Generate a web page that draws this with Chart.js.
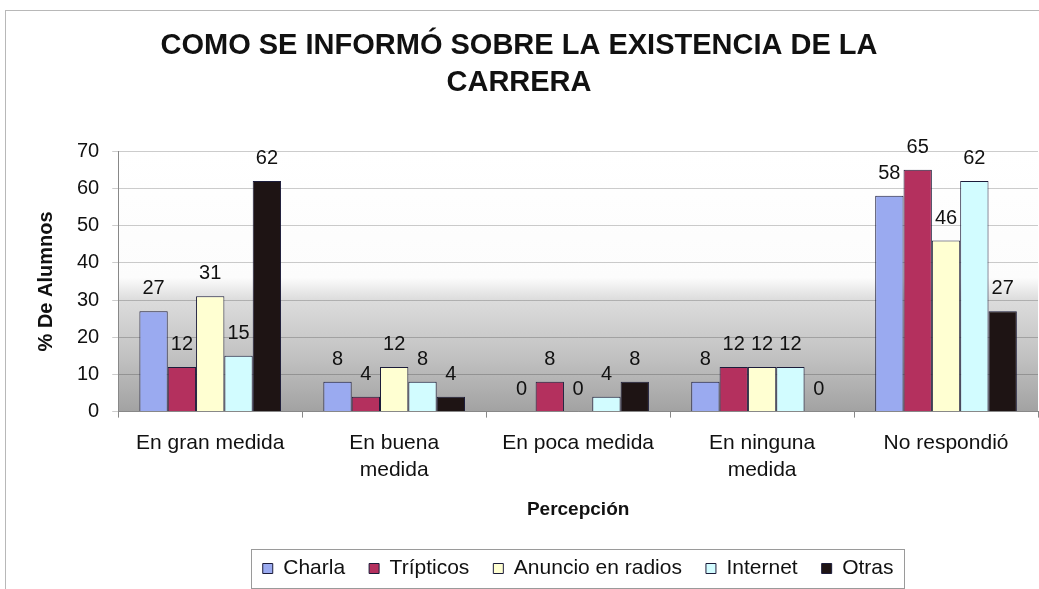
<!DOCTYPE html>
<html>
<head>
<meta charset="utf-8">
<script src="https://cdn.jsdelivr.net/npm/chart.js@4/dist/chart.umd.min.js"></script>
<style>
  html, body { margin: 0; padding: 0; background: #fff; }
</style>
</head>
<body>
<canvas id="grafico" width="1039" height="589"></canvas>
<script>
// datos
const categorias = ['En gran medida', ['En buena', 'medida'], 'En poca medida', ['En ninguna', 'medida'], 'No respondió'];
const charla = [27, 8, 0, 8, 58];
const tripticos = [12, 4, 8, 12, 65];
const anuncioRadios = [31, 12, 0, 12, 46];
const internet = [15, 8, 4, 12, 62];
const otras = [62, 4, 8, 0, 27];
const ticksY = [0, 10, 20, 30, 40, 50, 60, 70];

const FUENTE = "'Liberation Sans', Arial, sans-serif";

// fondo degradado del area del grafico
const fondoPlugin = {
  id: 'fondo',
  beforeDraw(chart) {
    const { ctx, chartArea, scales } = chart;
    const y = scales.y;
    const h = chartArea.bottom - chartArea.top;
    const pos = v => (y.getPixelForValue(v) - chartArea.top) / h;
    const g = ctx.createLinearGradient(0, chartArea.top, 0, chartArea.bottom);
    g.addColorStop(0, '#ffffff');
    g.addColorStop(pos(36), '#fcfcfc');
    g.addColorStop(pos(30), '#dcdcdc');
    g.addColorStop(pos(15), '#c2c2c2');
    g.addColorStop(1, '#a2a2a2');
    ctx.save();
    ctx.fillStyle = g;
    ctx.fillRect(chartArea.left, chartArea.top, chartArea.right - chartArea.left, h);
    ctx.restore();
  }
};

// etiquetas de valor sobre cada barra
const etiquetasPlugin = {
  id: 'etiquetas',
  afterDatasetsDraw(chart) {
    const { ctx } = chart;
    ctx.save();
    ctx.font = '20px ' + FUENTE;
    ctx.fillStyle = '#111';
    ctx.textAlign = 'center';
    ctx.textBaseline = 'alphabetic';
    chart.data.datasets.forEach((ds, i) => {
      chart.getDatasetMeta(i).data.forEach((bar, j) => {
        ctx.fillText(String(ds.data[j]), bar.x, bar.y - 17);
      });
    });
    ctx.restore();
  }
};

// marco exterior y recuadro de la leyenda
const marcoPlugin = {
  id: 'marco',
  afterDraw(chart) {
    const { ctx } = chart;
    ctx.save();
    ctx.strokeStyle = '#b8b8b8';
    ctx.lineWidth = 1;
    ctx.strokeRect(5.5, 10.5, chart.width, chart.height);
    const cajas = chart.legend.legendHitBoxes;
    if (cajas && cajas.length) {
      const izq = Math.min(...cajas.map(c => c.left)) - 12;
      const der = Math.max(...cajas.map(c => c.left + c.width)) + 10;
      const arriba = cajas[0].top - 9;
      const alto = cajas[0].height + 18;
      ctx.strokeStyle = '#9a9a9a';
      ctx.strokeRect(Math.round(izq) + 0.5, Math.round(arriba) + 0.5, Math.round(der - izq), Math.round(alto));
    }
    ctx.restore();
  }
};

const borde = '#1c1c3a';

new Chart(document.getElementById('grafico'), {
  type: 'bar',
  data: {
    labels: categorias,
    datasets: [
      { label: 'Charla', data: charla, backgroundColor: '#9aaaf0', borderColor: borde, borderWidth: 1 },
      { label: 'Trípticos', data: tripticos, backgroundColor: '#b4305e', borderColor: borde, borderWidth: 1 },
      { label: 'Anuncio en radios', data: anuncioRadios, backgroundColor: '#ffffd2', borderColor: borde, borderWidth: 1 },
      { label: 'Internet', data: internet, backgroundColor: '#d2fcff', borderColor: borde, borderWidth: 1 },
      { label: 'Otras', data: otras, backgroundColor: '#1e1414', borderColor: borde, borderWidth: 1 }
    ]
  },
  options: {
    responsive: false,
    devicePixelRatio: 1,
    animation: false,
    layout: { padding: { left: 0, right: 1, top: 0, bottom: 0 } },
    datasets: {
      bar: { categoryPercentage: 0.77, barPercentage: 1 }
    },
    plugins: {
      title: {
        display: true,
        text: ['COMO SE INFORMÓ SOBRE LA EXISTENCIA DE LA', 'CARRERA'],
        color: '#111',
        font: { family: FUENTE, size: 29, weight: 'bold', lineHeight: 1.28 },
        padding: { top: 27, bottom: 50 }
      },
      legend: {
        position: 'bottom',
        fullSize: false,
        labels: {
          color: '#111',
          font: { family: FUENTE, size: 21 },
          boxWidth: 10,
          boxHeight: 10,
          padding: 24
        }
      },
      tooltip: { enabled: false }
    },
    scales: {
      x: {
        grid: { display: true, drawOnChartArea: false, tickLength: 6, color: '#888' },
        border: { color: '#888' },
        ticks: {
          color: '#111',
          font: { family: FUENTE, size: 21, lineHeight: 1.3 },
          padding: 12,
          maxRotation: 0
        },
        title: {
          display: true,
          text: 'Percepción',
          color: '#111',
          font: { family: FUENTE, size: 19, weight: 'bold' },
          padding: { top: 2, bottom: 13 }
        }
      },
      y: {
        min: 0,
        max: 70,
        afterBuildTicks(scale) {
          scale.ticks = ticksY.map(v => ({ value: v }));
        },
        grid: { color: 'rgba(0,0,0,0.2)', tickLength: 6 },
        border: { color: '#888' },
        ticks: {
          color: '#111',
          font: { family: FUENTE, size: 20 },
          padding: 13
        },
        title: {
          display: true,
          text: '% De Alumnos',
          color: '#111',
          font: { family: FUENTE, size: 20, weight: 'bold' },
          padding: { top: 34, bottom: 6 }
        }
      }
    }
  },
  plugins: [fondoPlugin, etiquetasPlugin, marcoPlugin]
});
</script>
</body>
</html>
